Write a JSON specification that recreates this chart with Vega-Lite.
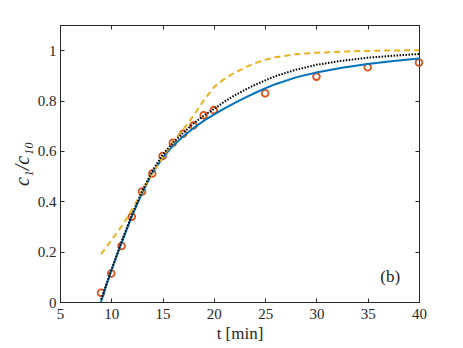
{
  "$schema": "https://vega.github.io/schema/vega-lite/v6.json",
  "width": 359,
  "height": 277,
  "autosize": "none",
  "padding": {"left": 60, "top": 25, "right": 44, "bottom": 46},
  "config": {
    "font": "Liberation Serif",
    "view": {"stroke": "#262626", "strokeWidth": 1},
    "axis": {
      "domain": false,
      "grid": false,
      "labelFlush": false,
      "tickColor": "#262626",
      "tickSize": -4,
      "tickWidth": 1,
      "labelColor": "#262626",
      "labelFont": "Liberation Serif",
      "labelFontSize": 15,
      "titleFont": "Liberation Serif",
      "titleFontSize": 17,
      "titleFontWeight": "normal",
      "titleColor": "#262626"
    }
  },
  "datasets": {
    "points": [
      {"t": 9, "y": 0.037}, {"t": 10, "y": 0.113}, {"t": 11, "y": 0.222}, {"t": 12, "y": 0.339},
      {"t": 13, "y": 0.439}, {"t": 14, "y": 0.51}, {"t": 15, "y": 0.58}, {"t": 16, "y": 0.632},
      {"t": 17, "y": 0.668}, {"t": 18, "y": 0.701}, {"t": 19, "y": 0.742}, {"t": 20, "y": 0.762},
      {"t": 25, "y": 0.829}, {"t": 30, "y": 0.895}, {"t": 35, "y": 0.932}, {"t": 40, "y": 0.951}
    ],
    "blue": [
      {"t": 9, "y": 0}, {"t": 9.5, "y": 0.065}, {"t": 10, "y": 0.125}, {"t": 11, "y": 0.235},
      {"t": 12, "y": 0.34}, {"t": 13, "y": 0.432}, {"t": 14, "y": 0.512}, {"t": 15, "y": 0.572},
      {"t": 16, "y": 0.62}, {"t": 17, "y": 0.657}, {"t": 18, "y": 0.69}, {"t": 19, "y": 0.719},
      {"t": 20, "y": 0.744}, {"t": 21, "y": 0.768}, {"t": 22, "y": 0.79}, {"t": 23, "y": 0.811},
      {"t": 24, "y": 0.83}, {"t": 25, "y": 0.848}, {"t": 26, "y": 0.865}, {"t": 28, "y": 0.892},
      {"t": 30, "y": 0.911}, {"t": 32.5, "y": 0.93}, {"t": 35, "y": 0.945}, {"t": 37.5, "y": 0.957},
      {"t": 40, "y": 0.967}
    ],
    "black": [
      {"t": 9, "y": 0.01}, {"t": 10, "y": 0.125}, {"t": 11, "y": 0.24}, {"t": 12, "y": 0.345},
      {"t": 13, "y": 0.44}, {"t": 14, "y": 0.52}, {"t": 15, "y": 0.585}, {"t": 16, "y": 0.632},
      {"t": 17, "y": 0.672}, {"t": 18, "y": 0.708}, {"t": 19, "y": 0.74}, {"t": 20, "y": 0.766},
      {"t": 21, "y": 0.795}, {"t": 22, "y": 0.82}, {"t": 23, "y": 0.842}, {"t": 24, "y": 0.862},
      {"t": 25, "y": 0.88}, {"t": 26, "y": 0.897}, {"t": 28, "y": 0.922}, {"t": 30, "y": 0.942},
      {"t": 32.5, "y": 0.958}, {"t": 35, "y": 0.97}, {"t": 37.5, "y": 0.978}, {"t": 40, "y": 0.985}
    ],
    "yellow": [
      {"t": 9, "y": 0.19}, {"t": 10, "y": 0.245}, {"t": 11, "y": 0.3}, {"t": 12, "y": 0.365},
      {"t": 13, "y": 0.44}, {"t": 14, "y": 0.51}, {"t": 15, "y": 0.575}, {"t": 16, "y": 0.635},
      {"t": 17, "y": 0.685}, {"t": 18, "y": 0.739}, {"t": 19, "y": 0.8}, {"t": 20, "y": 0.853},
      {"t": 21, "y": 0.885}, {"t": 22, "y": 0.91}, {"t": 23, "y": 0.93}, {"t": 24, "y": 0.948},
      {"t": 25, "y": 0.962}, {"t": 26, "y": 0.972}, {"t": 28, "y": 0.984}, {"t": 30, "y": 0.99},
      {"t": 33, "y": 0.995}, {"t": 36, "y": 0.998}, {"t": 40, "y": 1.0}
    ],
    "label": [{"t": 37.2, "y": 0.1, "text": "(b)"}]
  },
  "layer": [
    {
      "data": {"name": "points"},
      "mark": {"type": "point", "shape": "circle", "filled": false, "color": "#D95319", "size": 45, "strokeWidth": 1.8, "opacity": 1},
      "encoding": {
        "x": {"field": "t", "type": "quantitative", "scale": {"domain": [5, 40], "nice": false},
              "axis": {"orient": "bottom", "values": [5, 10, 15, 20, 25, 30, 35, 40], "title": "t [min]", "labelPadding": 8, "titlePadding": 4}},
        "y": {"field": "y", "type": "quantitative", "scale": {"domain": [0, 1.1], "nice": false},
              "axis": {"orient": "left", "values": [0, 0.2, 0.4, 0.6, 0.8, 1], "format": "~g", "title": "c₁/c₁₀", "titleFontStyle": "italic", "titleFontSize": 20, "labelPadding": 8, "titlePadding": 5}}
      }
    },
    {
      "data": {"name": "blue"},
      "mark": {"type": "line", "color": "#0072BD", "strokeWidth": 2},
      "encoding": {
        "x": {"field": "t", "type": "quantitative", "axis": {"orient": "top", "values": [5, 10, 15, 20, 25, 30, 35, 40], "labels": false, "title": null}},
        "y": {"field": "y", "type": "quantitative", "axis": {"orient": "right", "values": [0, 0.2, 0.4, 0.6, 0.8, 1], "labels": false, "title": null}}
      }
    },
    {
      "data": {"name": "yellow"},
      "mark": {"type": "line", "color": "#EDB120", "strokeWidth": 2, "strokeDash": [6, 4]},
      "encoding": {
        "x": {"field": "t", "type": "quantitative", "axis": null},
        "y": {"field": "y", "type": "quantitative", "axis": null}
      }
    },
    {
      "data": {"name": "black"},
      "mark": {"type": "line", "color": "#000000", "strokeWidth": 2, "strokeDash": [1.5, 1.5]},
      "encoding": {
        "x": {"field": "t", "type": "quantitative", "axis": null},
        "y": {"field": "y", "type": "quantitative", "axis": null}
      }
    },
    {
      "data": {"name": "label"},
      "mark": {"type": "text", "font": "Liberation Serif", "fontSize": 17, "color": "#262626", "align": "center", "baseline": "middle"},
      "encoding": {
        "x": {"field": "t", "type": "quantitative", "axis": null},
        "y": {"field": "y", "type": "quantitative", "axis": null},
        "text": {"field": "text"}
      }
    }
  ],
  "resolve": {"axis": {"x": "independent", "y": "independent"}}
}
